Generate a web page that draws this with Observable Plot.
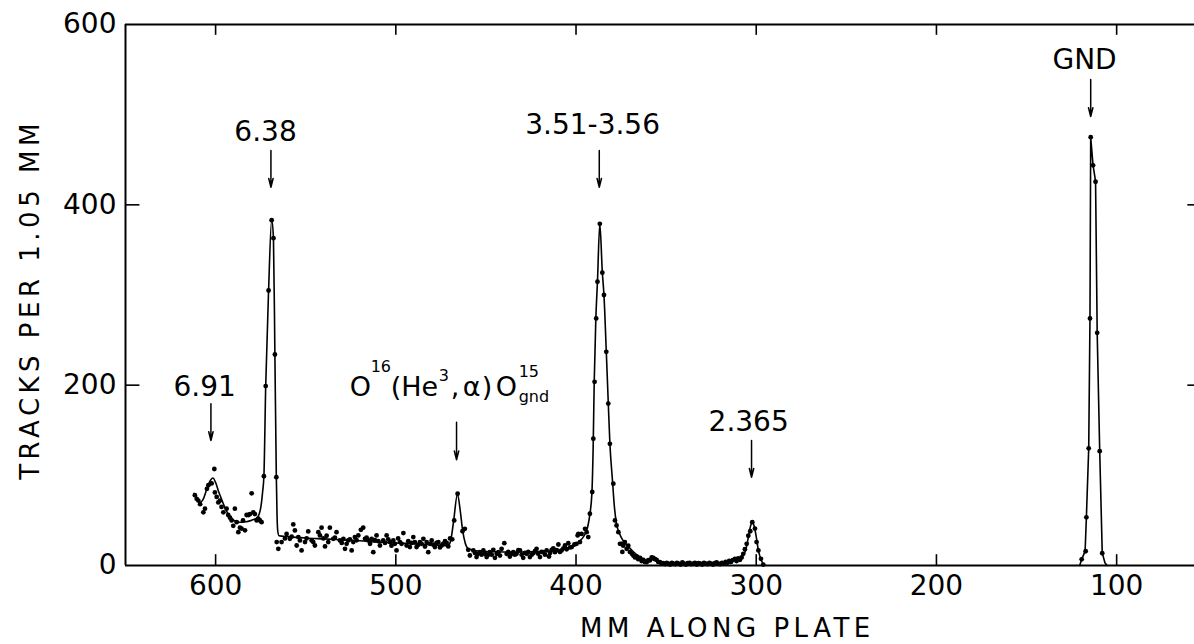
<!DOCTYPE html>
<html><head><meta charset="utf-8">
<script src="https://cdn.jsdelivr.net/npm/d3@7"></script>
<script src="https://cdn.jsdelivr.net/npm/@observablehq/plot@0.6"></script>
<style>
html,body{margin:0;padding:0;background:#fff;}
#chart svg{display:block;}
</style></head><body><div id="chart"></div>
<script>
// ---- axis ticks ----
const xTickValues = [600, 500, 400, 300, 200, 100];
const yTickValues = [0, 200, 400, 600];
const yInnerTicks = [200, 400];

// ---- measured counts (dots) ----
const dotMM = [
611.5,610.5,609.6,608.6,606.8,605.9,604.8,604,602.2,600.7,600.4,599.4,598.5,597.6,596.7,595.7,593.9,593,592,591.1,590.2,589.3,588.3,587.4,586.5,585.6,584.8,583.7,582.8,581.8,580.9,580,579.1,578.2,577.2,576.3,575.4,574.5,
573.2,572.2,570.6,568.9,567.9,567.1,566.3,
566.1,565.2,563.4,561.5,560.6,558.8,557.8,556.9,556,555,554.1,553.2,552.3,550.4,549.5,548.6,546.7,545.8,544.9,543,542.1,541.2,540.2,539.3,538.4,537.5,536.6,534.7,533.8,532.9,531,530,529.1,528.2,527.3,526.4,525.5,524.5,523.6,522.7,521.8,520.8,519.4,518.1,517.1,516.2,515.3,514.3,513.4,512.5,511.6,510.7,509.7,508.8,507,506,505.1,504.2,503.3,502.4,501.4,500.5,499.6,498.7,497.7,496.8,495.8,494,493.1,492.2,491.2,490.3,489.4,488.5,487.5,486.6,485.7,484.7,483.8,482.9,482,481,480.1,479.2,478.3,477.4,476.4,475.5,474.6,473.7,472.7,471.8,470.9,
469.9,468.7,467.6,465.7,463,461.7,
459.8,458.9,457,456.1,455.2,454.3,453.3,452.4,451.4,450.5,449.6,448.7,447.8,446.8,445.9,445,444,443.1,442.2,441.3,439.8,438.5,437.6,436.7,435.7,434.8,433.9,433,432,431.1,430.2,429.3,428.3,427.4,426.5,425.6,424.6,423.7,422.8,421.9,421,420,419.1,418.2,417.2,416.3,415,414.4,413.5,412.6,411.7,410.7,409.8,408.9,408,407,406.1,405.2,404.3,403.3,402.4,400.9,399.7,399.1,398.7,397.8,396.9,395,394.1,393.2,
392.3,391,390.4,389.7,388.8,388.1,386.8,385.4,384.5,383.2,382.1,381.2,379.3,378.4,377.5,376.5,
375.6,374.7,374.3,373.8,372.9,371.9,371,370.1,369,368.2,367.3,366.4,365.5,364.5,363.6,362.7,361.8,360.8,359.9,359,358,357.1,356.2,355.3,354.4,353.4,352.5,351.6,350.6,349.7,348.7,347.8,346.8,345.9,344.9,344,343,342,341,340,339,338,337,336,335,334,333,332,331,330,329,328,327,326,325,324,323,322,321,320,319,318,317,316,315,314,313,
311.8,310.9,310,309,308.1,307.2,306.3,305.3,304.4,303.3,302.2,300.7,299.8,298.8,297.4,296.1,
119.4,117.2,116.8,115.5,114.8,114.4,113.1,111.7,110.8,109.4,108
];
const dotTracks = [
78,74,72,68,59,63,85,89,91,107,81,76,70,72,65,59,63,56,53,50,44,63,48,37,42,41,50,39,56,56,57,80,59,57,50,52,50,48,
99,199,305,383,363,234,98,
26,18.5,26,30,35,29.6,32,45.5,38.9,22.2,31.5,27.8,16.7,26,30,37.8,27.8,26,22.2,37,33.3,41.9,30,21.1,33,26,41.9,29.6,31,37,27.8,25,29.6,18.5,24,27.8,29,16.7,26,31.5,28,33.3,39.6,41.9,29.6,31,27.8,24,29.6,14.8,28,33.3,27,22.2,27.8,25,33.3,29,26,22,27.8,24,16.7,30,26,24,36,22.2,27,20.4,25,31.5,26,20.4,23,26,24,29.6,21,26,14.8,24,27.8,23,20.4,25,26,20,22.2,24,27,25,21.1,
30,29,50,79.6,38,40.7,
17.4,11.1,16.7,14,9.3,13,14.8,12,16.7,13,9.3,12,14.8,12,17.4,8.5,13,14.8,11,18.5,24.8,13,15,10,13,14.8,12,13,17,16.7,12,8.5,14,13,15,9.3,12,13.7,16,18.5,13,9.3,15,14.8,12,16.7,10,14,17.4,19,14.8,17,23.3,15,16.7,19,22.2,18,24.8,20,20.4,23.3,24,33.3,35,26,35,40.7,37,31.5,
57.4,81.5,140.7,203.7,274,314.8,378.9,324.8,300,237,179.6,135,90.7,50,44.4,37,
24,24,15,22,26,18.5,22,15,13,11,9,10,7,8.5,5,6.3,4,3.7,6,5.6,9,8.5,7,6.3,4,3.7,2,2.6,1.5,3,2,1,3,2,1.5,3,2,1,3.5,2,1,2.5,3,1.5,2,3,1,2.5,2,1,3,2,1.5,3,2,1,2.5,3.5,2,1.5,3,2,4,3,5,4,6,
7.4,5,8,6.3,9,13,18,24,33,38,48,41,26,16.7,7.4,1,
6.8,15.8,53.4,130,274,475,443.8,425.6,258,126.8,13.6
];

// ---- fitted curve (main) ----
const curveMM = [612,610,608.5,607,605,603,601.5,600,598.5,597,595,593,591,589,587,585,583,581,579,577,575.8,574.8,573.9,573.2,572.2,570.6,568.9,567.9,567.1,566.3,565.9,565.5,564.8,560,550,540,530,520,510,500,490,480,471,469.5,468,465.8,464.2,463,461.5,460,457,450,440,430,420,410,405,401,398,395.5,393.5,392.3,391.2,390.5,389.9,389,388.1,386.8,385.4,384.5,383.2,382.1,381.2,379.8,378.7,377.5,376,374,371,368,365,362,359,357,355,352,345,335,325,318,314,311,308,306,304.5,303,302.2,301.2,300,299,297.8,296.5,295.5];
const curveTracks = [80,74,70,73,84,94,97,92,83,75,65,57,52,49,48,48,48.5,49.5,51,53,57,66,82,99,199,305,383,363,234,98,55,38,33,32,30.5,29.5,28.5,27.5,26,25,24,23,22,28,48,79,60,40,25,19,17,15.5,15,15,15.5,17,19,22,27,33,43,57,80,130,204,274,315,379,325,300,237,180,135,95,65,46,36,28,21,15,10,6.5,5,7,5,3,2.5,2,2,2.5,4,7,10,16,30,45,48,44,32,19,9,3,0.5];

// ---- fitted curve (ground state) ----
const gndMM = [120.5,119.4,117.5,116.8,115.5,114.8,114.4,113.1,111.7,110.8,109.4,108,106.5,105.3];
const gndTracks = [0,6.8,16,53,130,274,475,444,426,258,127,14,3,0];

// ---- peak labels ----
const labelText = ["6.38", "6.91", "3.51-3.56", "2.365", "GND"];
const labelMM = [572.3, 606.1, 390.8, 304.2, 117.8];
const labelTracks = [471.3, 188.5, 479.1, 148.9, 551];

// ---- arrows ----
const arrowMM = [569.3, 602.6, 466.3, 387.1, 302.6, 114.4];
const arrowFrom = [460.2, 179.3, 159, 460.2, 138.6, 539];
const arrowTo = [419.5, 138.6, 117.2, 419.5, 97.9, 498];

// reaction label anchor
const reactionMM = 525.6, reactionTracks = 188.5;

const dots = dotMM.map((mm, i) => ({mm, tracks: dotTracks[i]}));
const curve = curveMM.map((mm, i) => ({mm, tracks: curveTracks[i]})).sort((a, b) => a.mm - b.mm);
const gnd = gndMM.map((mm, i) => ({mm, tracks: gndTracks[i]})).sort((a, b) => a.mm - b.mm);
const labels = labelText.map((t, i) => ({t, mm: labelMM[i], tracks: labelTracks[i]}));
const arrows = arrowMM.map((mm, i) => ({mm, y1: arrowFrom[i], y2: arrowTo[i]}));

const FONT = "DejaVu Sans";
function part(text, dx, dy, size) {
  return Plot.text([text], {x: () => reactionMM, y: () => reactionTracks, text: d => d,
    textAnchor: "start", lineAnchor: "bottom", dx, dy, fontSize: size, fill: "black"});
}

const chart = Plot.plot({
  width: 1194, height: 644,
  marginLeft: 125, marginRight: 0, marginTop: 24, marginBottom: 79,
  style: {fontFamily: FONT, background: "white", color: "black"},
  x: {domain: [650, 56.8]},
  y: {domain: [0, 600]},
  marks: [
    // frame
    Plot.ruleY([0], {strokeWidth: 2}),
    Plot.ruleY([600], {strokeWidth: 2}),
    Plot.ruleX([650], {strokeWidth: 2}),
    // inner ticks
    Plot.ruleX(xTickValues, {y1: 0, y2: 12, strokeWidth: 1.6}),
    Plot.ruleX(xTickValues, {y1: 600, y2: 588, strokeWidth: 1.6}),
    Plot.ruleY(yInnerTicks, {x1: 650, x2: 642, strokeWidth: 1.6}),
    Plot.ruleY(yInnerTicks, {x1: 60.5, x2: 56.8, strokeWidth: 1.6}),
    Plot.axisX(xTickValues, {tickSize: 0, tickPadding: 10, fontSize: 28, label: null}),
    Plot.axisY(yTickValues, {tickSize: 0, tickPadding: 9, fontSize: 28, label: null}),
    // data
    Plot.line(curve, {x: "mm", y: "tracks", curve: "monotone-x", strokeWidth: 1.6}),
    Plot.line(gnd, {x: "mm", y: "tracks", strokeWidth: 1.6}),
    Plot.dot(dots, {x: "mm", y: "tracks", r: 2.4, fill: "black"}),
    // annotations
    Plot.arrow(arrows, {x1: "mm", x2: "mm", y1: "y1", y2: "y2", headLength: 9, headAngle: 28, strokeWidth: 1.5}),
    Plot.text(labels, {x: "mm", y: "tracks", text: "t", lineAnchor: "bottom", fontSize: 28, fill: "black"}),
    part("O", 0, 0, 27),
    part("16", 21, -24, 16),
    part("(He", 41, 0, 27),
    part("3", 89, -15, 16),
    part(",", 101, 0, 27),
    part("α", 113, 0, 27),
    part(")", 132, 0, 27),
    part("O", 146, 0, 27),
    part("15", 169, -19, 16),
    part("gnd", 169, 6, 16),
    // axis titles
    Plot.text(["MM ALONG PLATE"], {x: () => 316, frameAnchor: "bottom", dy: 71, fontSize: 26, fill: "black"}),
    Plot.text(["TRACKS PER 1.05 MM"], {y: () => 295, frameAnchor: "left", textAnchor: "middle", lineAnchor: "middle", dx: -95, rotate: -90, fontSize: 26, fill: "black"})
  ]
});

chart.querySelectorAll("text").forEach(t => {
  const s = t.textContent;
  if (s === "MM ALONG PLATE" || s === "TRACKS PER 1.05 MM") t.style.letterSpacing = "4.5px";
});
document.getElementById("chart").appendChild(chart);
</script></body></html>
